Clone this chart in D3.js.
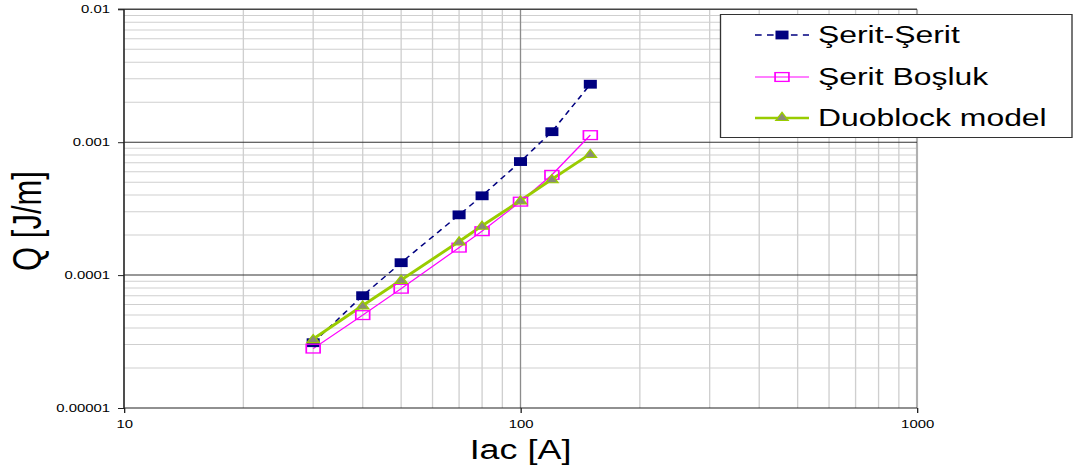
<!DOCTYPE html>
<html>
<head>
<meta charset="utf-8">
<script src="https://cdn.jsdelivr.net/npm/d3@7"></script>
<style>
  html, body { margin: 0; padding: 0; background: #fff; }
  svg { display: block; }
  text { font-family: "Liberation Sans", Arial, sans-serif; fill: #000; }
</style>
</head>
<body>
<svg id="chart" width="1075" height="470"></svg>
<script>
// Current (A) and energy loss per metre (J/m)
const current = [30, 40, 50, 70, 80, 100, 120, 150];
const seritSerit = [3.1e-5, 7.0e-5, 1.24e-4, 2.84e-4, 3.95e-4, 7.15e-4, 1.2e-3, 2.73e-3];
const seritBosluk = [2.8e-5, 5.0e-5, 7.9e-5, 1.61e-4, 2.14e-4, 3.57e-4, 5.68e-4, 1.13e-3];
const duoblock = [3.3e-5, 5.9e-5, 9.2e-5, 1.79e-4, 2.35e-4, 3.64e-4, 5.27e-4, 8.17e-4];

const seriesNames = ["Şerit-Şerit", "Şerit Boşluk", "Duoblock model"];
const xTickLabels = ["10", "100", "1000"];
const yTickLabels = ["0.01", "0.001", "0.0001", "0.00001"];
const xTitle = "Iac [A]";
const yTitle = "Q [J/m]";

// The drawing is laid out in a narrower space and widened horizontally.
const S = 1.33;
const sx = v => v / S;

const svg = d3.select("#chart");
const g = svg.append("g").attr("transform", `scale(${S},1)`);

const pLeft = sx(124), pRight = sx(917), pTop = 9.3, pBottom = 408;

const x = d3.scaleLog().domain([10, 1000]).range([pLeft, pRight]);
const y = d3.scaleLog().domain([1e-5, 1e-2]).range([pBottom, pTop]);

// Minor grid
const minorX = [];
[10, 100].forEach(d => { for (let k = 2; k <= 9; k++) minorX.push(d * k); });
const minorY = [];
[1e-5, 1e-4, 1e-3].forEach(d => { for (let k = 2; k <= 9; k++) minorY.push(d * k); });

g.append("g").selectAll("line").data(minorY).join("line")
  .attr("x1", pLeft).attr("x2", pRight)
  .attr("y1", d => y(d)).attr("y2", d => y(d))
  .attr("stroke", "#cfcfcf").attr("stroke-width", 1);

g.append("g").selectAll("line").data(minorX).join("line")
  .attr("x1", d => x(d)).attr("x2", d => x(d))
  .attr("y1", pTop).attr("y2", pBottom)
  .attr("stroke", "#cfcfcf").attr("stroke-width", 1);

// Major grid
g.append("line").attr("x1", x(100)).attr("x2", x(100)).attr("y1", pTop).attr("y2", pBottom)
  .attr("stroke", "#8c8c8c").attr("stroke-width", 1);
g.append("line").attr("x1", x(1000)).attr("x2", x(1000)).attr("y1", pTop).attr("y2", pBottom)
  .attr("stroke", "#b0b0b0").attr("stroke-width", 1.6);
[1e-4, 1e-3].forEach(v => {
  g.append("line").attr("x1", pLeft).attr("x2", pRight).attr("y1", y(v)).attr("y2", y(v))
    .attr("stroke", "#333").attr("stroke-width", 1);
});
g.append("line").attr("x1", pLeft - sx(6)).attr("x2", pRight).attr("y1", pTop).attr("y2", pTop)
  .attr("stroke", "#444").attr("stroke-width", 1.4);

// Axes
const yAxis = d3.axisLeft(y).tickValues([1e-2, 1e-3, 1e-4, 1e-5])
  .tickFormat((d, i) => yTickLabels[i]).tickSize(sx(6)).tickPadding(sx(8));
const yg = g.append("g").attr("transform", `translate(${pLeft},0)`).call(yAxis);
yg.select(".domain").attr("stroke", "#222").attr("stroke-width", 1.2).attr("d", `M0,${pTop}V${pBottom}`);
yg.selectAll(".tick line").attr("stroke", "#222");
yg.selectAll("text").attr("font-size", 11.2).attr("font-family", "Liberation Sans, Arial, sans-serif").attr("fill", "#000");

const xAxis = d3.axisBottom(x).tickValues([10, 100, 1000])
  .tickFormat((d, i) => xTickLabels[i]).tickSize(5).tickPadding(7);
const xg = g.append("g").attr("transform", `translate(0,${pBottom})`).call(xAxis);
xg.select(".domain").attr("stroke", "#222").attr("stroke-width", 1.2).attr("d", `M${pLeft},0H${pRight}`);
xg.selectAll(".tick line").attr("stroke", "#222");
xg.selectAll("text").attr("font-size", 11.2).attr("font-family", "Liberation Sans, Arial, sans-serif").attr("fill", "#000");

// Titles
g.append("text").attr("x", x(100)).attr("y", 459)
  .attr("text-anchor", "middle").attr("font-size", 27).text(xTitle);
g.append("text").attr("transform", `translate(${sx(41)},221) rotate(-90)`)
  .attr("text-anchor", "middle").attr("font-size", 31).text(yTitle);

// Series
const line = d3.line().x(d => x(d[0])).y(d => y(d[1]));
const pts = vals => current.map((c, i) => [c, vals[i]]);

g.append("path").datum(pts(seritSerit)).attr("d", line)
  .attr("fill", "none").attr("stroke", "#000080").attr("stroke-width", 1.3)
  .attr("stroke-dasharray", "5,4");
g.append("path").datum(pts(seritBosluk)).attr("d", line)
  .attr("fill", "none").attr("stroke", "#ff00ff").attr("stroke-width", 1.1);
g.append("path").datum(pts(duoblock)).attr("d", line)
  .attr("fill", "none").attr("stroke", "#99cc00").attr("stroke-width", 2.6);

const tri = d3.symbol().type(d3.symbolTriangle).size(38);

function navySquare(sel, cx, cy) {
  sel.append("rect").attr("x", cx - 4.9).attr("y", cy - 4.4).attr("width", 9.8).attr("height", 8.8)
    .attr("fill", "#000080");
}
function pinkSquare(sel, cx, cy) {
  sel.append("rect").attr("x", cx - 5.2).attr("y", cy - 4.4).attr("width", 10.4).attr("height", 8.8)
    .attr("fill", "none").attr("stroke", "#ff00ff").attr("stroke-width", 1.3);
}
function greenTri(sel, cx, cy) {
  sel.append("path").attr("d", tri).attr("transform", `translate(${cx},${cy + 0.8})`)
    .attr("fill", "#8a8a78").attr("stroke", "#99cc00").attr("stroke-width", 1.1);
}

const mk = g.append("g");
current.forEach((c, i) => navySquare(mk, x(c), y(seritSerit[i])));
current.forEach((c, i) => pinkSquare(mk, x(c), y(seritBosluk[i])));
current.forEach((c, i) => greenTri(mk, x(c), y(duoblock[i])));

// Legend
const lg = g.append("g");
lg.append("rect").attr("x", sx(720.5)).attr("y", 14.5).attr("width", sx(1072) - sx(720.5)).attr("height", 123)
  .attr("fill", "#fff").attr("stroke", "#333").attr("stroke-width", 1);
const rowsY = [35, 77, 118];
const lx1 = sx(755), lx2 = sx(809), lmx = sx(782), ltx = sx(818);
lg.append("line").attr("x1", lx1).attr("x2", lx2).attr("y1", rowsY[0]).attr("y2", rowsY[0])
  .attr("stroke", "#000080").attr("stroke-width", 1.3).attr("stroke-dasharray", "5,4");
navySquare(lg, lmx, rowsY[0]);
lg.append("line").attr("x1", lx1).attr("x2", lx2).attr("y1", rowsY[1]).attr("y2", rowsY[1])
  .attr("stroke", "#ff00ff").attr("stroke-width", 1.1);
pinkSquare(lg, lmx, rowsY[1]);
lg.append("line").attr("x1", lx1).attr("x2", lx2).attr("y1", rowsY[2]).attr("y2", rowsY[2])
  .attr("stroke", "#99cc00").attr("stroke-width", 2.6);
greenTri(lg, lmx, rowsY[2] - 1);
seriesNames.forEach((n, i) => {
  lg.append("text").attr("x", ltx).attr("y", rowsY[i] + 8.5).attr("font-size", 24).text(n);
});
</script>
</body>
</html>
